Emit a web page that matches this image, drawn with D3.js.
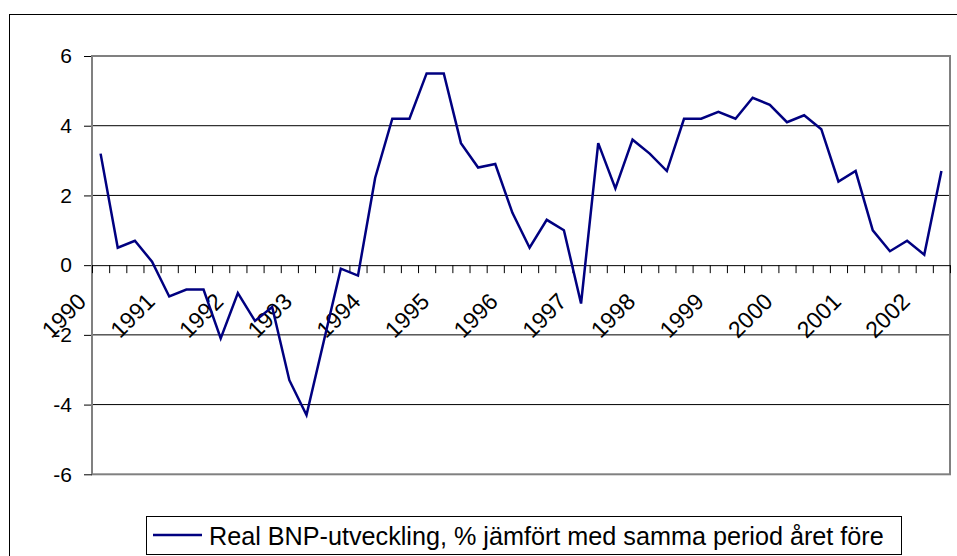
<!DOCTYPE html>
<html>
<head>
<meta charset="utf-8">
<script src="https://cdn.jsdelivr.net/npm/d3@7"></script>
<style>
  html, body { margin: 0; padding: 0; background: #fff; }
  svg { display: block; font-family: Arial, 'Liberation Sans', sans-serif; }
</style>
</head>
<body>
<svg id="chart" width="957" height="556"></svg>
<script>
// year labels on the category axis (one per 4 quarters)
const years = ['1990', '1991', '1992', '1993', '1994', '1995', '1996', '1997', '1998', '1999', '2000', '2001', '2002']
// quarters 1990 K1 .. 2002 K2
const quarters = years.flatMap(y => ['K1', 'K2', 'K3', 'K4'].map(q => `${y} ${q}`)).slice(0, 50)
// real GDP growth, % vs same period previous year
const gdp = [
  3.2, 0.5, 0.7, 0.1,
  -0.9, -0.7, -0.7, -2.1,
  -0.8, -1.6, -1.2, -3.3,
  -4.3, -2.2, -0.1, -0.3,
  2.5, 4.2, 4.2, 5.5,
  5.5, 3.5, 2.8, 2.9,
  1.5, 0.5, 1.3, 1.0,
  -1.1, 3.5, 2.2, 3.6,
  3.2, 2.7, 4.2, 4.2,
  4.4, 4.2, 4.8, 4.6,
  4.1, 4.3, 3.9, 2.4,
  2.7, 1.0, 0.4, 0.7,
  0.3, 2.7
]
const yTicks = [-6, -4, -2, 0, 2, 4, 6]
const gridValues = [-4, -2, 2, 4]
const legendLabel = 'Real BNP-utveckling, % jämfört med samma period året före'

const LEFT = 92, RIGHT = 950, TOP = 56, BOTTOM = 474.3
const LINE_COLOR = '#000080'

const svg = d3.select('#chart')

// outer chart frame (runs off the right and bottom edges)
svg.append('rect').attr('x', 9.5).attr('y', 14.5).attr('width', 1000).attr('height', 600)
  .attr('fill', '#fff').attr('stroke', '#000').attr('stroke-width', 1)

const x = d3.scaleBand().domain(quarters).range([LEFT, RIGHT])
const xi = d3.scaleLinear().domain([0, quarters.length]).range([LEFT, RIGHT])
const y = d3.scaleLinear().domain([-6, 6]).range([BOTTOM, TOP])

// gridlines
svg.append('g').selectAll('line').data(gridValues).join('line')
  .attr('x1', LEFT).attr('x2', RIGHT)
  .attr('y1', d => y(d)).attr('y2', d => y(d))
  .attr('stroke', '#000').attr('stroke-width', 1)

// plot area border (grey)
svg.append('rect').attr('x', LEFT).attr('y', y(6)).attr('width', RIGHT - LEFT).attr('height', y(-6) - y(6))
  .attr('fill', 'none').attr('stroke', '#808080').attr('stroke-width', 2)

// value axis
const yAxis = svg.append('g').attr('transform', `translate(${LEFT},0)`)
  .call(d3.axisLeft(y).tickValues(yTicks).tickSize(8).tickPadding(12).tickFormat(d3.format('d')))
yAxis.select('.domain').remove()
yAxis.selectAll('.tick line').attr('stroke', '#000')
yAxis.selectAll('.tick text').attr('font-size', 21).attr('fill', '#000')
  .attr('font-family', 'Arial, Liberation Sans, sans-serif')
  .text(d => d < 0 ? '-' + Math.abs(d) : d)
svg.append('line').attr('x1', LEFT).attr('x2', LEFT).attr('y1', y(6)).attr('y2', y(-6))
  .attr('stroke', '#808080').attr('stroke-width', 2)

// category axis crossing at zero
const xAxis = svg.append('g').attr('transform', `translate(0,${y(0)})`)
  .call(d3.axisBottom(xi).tickValues(d3.range(0, quarters.length + 1)).tickSize(8).tickFormat(''))
xAxis.select('.domain').attr('d', `M${LEFT},0.5H${RIGHT}`).attr('stroke', '#000')
xAxis.selectAll('.tick line').attr('stroke', '#000')

// rotated year labels
svg.append('g').selectAll('text').data(years).join('text')
  .attr('transform', d => `translate(${x(d + ' K1') + x.bandwidth() / 2 - 13},303) rotate(-45)`)
  .attr('text-anchor', 'end').attr('font-size', 23).attr('fill', '#000')
  .text(d => d)

// series line
svg.append('path').datum(gdp)
  .attr('fill', 'none').attr('stroke', LINE_COLOR).attr('stroke-width', 2.5)
  .attr('stroke-linejoin', 'miter')
  .attr('d', d3.line().x((d, i) => x(quarters[i]) + x.bandwidth() / 2).y(d => y(d)))

// legend
const lg = svg.append('g')
lg.append('rect').attr('x', 146.5).attr('y', 516.5).attr('width', 755).attr('height', 38)
  .attr('fill', '#fff').attr('stroke', '#000').attr('stroke-width', 1)
lg.append('line').attr('x1', 153).attr('x2', 202).attr('y1', 535).attr('y2', 535)
  .attr('stroke', LINE_COLOR).attr('stroke-width', 2.5)
lg.append('text').attr('x', 209).attr('y', 545).attr('font-size', 25.2).attr('fill', '#000')
  .text(legendLabel)
</script>
</body>
</html>
